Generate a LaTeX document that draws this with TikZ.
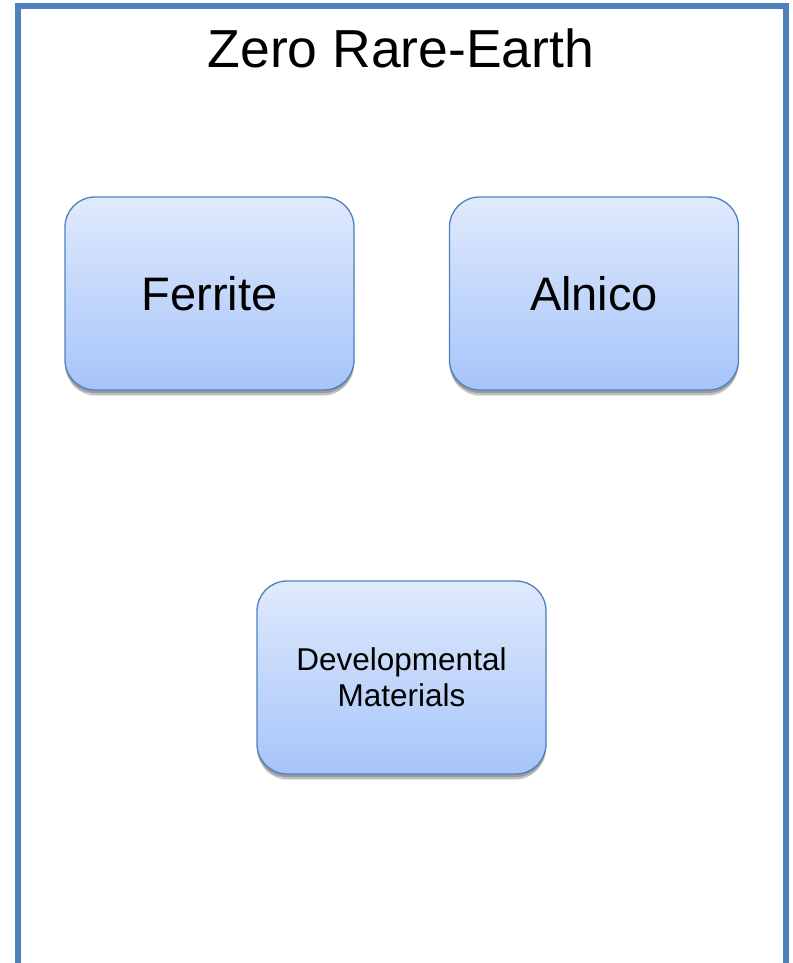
\documentclass[tikz,border=0pt]{standalone}
\usepackage{fontspec}
\setmainfont{Liberation Sans}
\usetikzlibrary{shadows}
\definecolor{frameblue}{HTML}{4F81BD}
\definecolor{boxtop}{HTML}{E0EAFC}
\definecolor{boxbot}{HTML}{A6C4FA}
\tikzset{
  matbox/.style={draw=frameblue, line width=1.3pt, rounded corners=30pt,
    top color=boxtop, bottom color=boxbot, minimum width=289pt, minimum height=193pt,
    align=center, inner sep=0pt,
    drop shadow={shadow xshift=0pt, shadow yshift=-7pt, shadow scale=0.99, opacity=0.10, fill=black},
    drop shadow={shadow xshift=0pt, shadow yshift=-5pt, opacity=0.15, fill=black},
    drop shadow={shadow xshift=0pt, shadow yshift=-3pt, opacity=0.2, fill=black}},
  bigtext/.style={font=\fontsize{47}{54}\selectfont},
  smalltext/.style={font=\fontsize{31.5}{36}\selectfont}
}
\begin{document}
\begin{tikzpicture}[x=1pt,y=-1pt]
\useasboundingbox (0,0) rectangle (792,963);
\fill[white] (0,0) rectangle (792,963);
\draw[frameblue, line width=6pt] (18,963) -- (18,6) -- (786,6) -- (786,963);
\node (title) at (401,48) {\fontsize{53.5}{60}\selectfont Zero Rare-Earth};
\node[matbox, bigtext] (ferrite) at (209.5,293.5) {Ferrite};
\node[matbox, bigtext] (alnico) at (594,293.5) {Alnico};
\node[matbox, smalltext] (dev) at (401.5,677.5) {Developmental\\Materials};
\end{tikzpicture}
\end{document}
